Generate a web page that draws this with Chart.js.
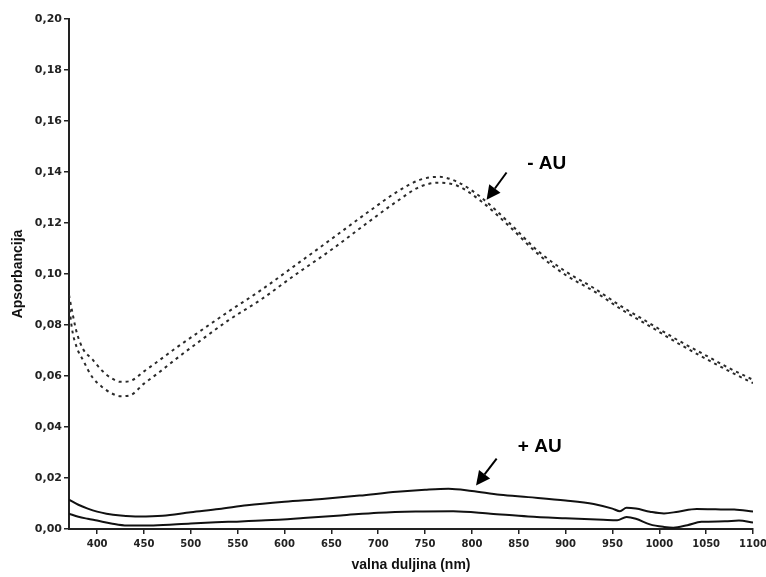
<!DOCTYPE html>
<html>
<head>
<meta charset="utf-8">
<script src="https://cdn.jsdelivr.net/npm/chart.js@4/dist/chart.umd.min.js"></script>
<style>
  html, body { margin: 0; padding: 0; background: #fff; }
  #wrap { width: 766px; height: 577px; overflow: hidden; }
</style>
</head>
<body>
<div id="wrap"><canvas id="c" width="766" height="577"></canvas></div>
<script>
// ---- Data ----
const dashWavelengths = [370, 373, 378, 385, 395, 405, 415, 425, 435, 450, 465, 485, 510, 540, 575, 610, 650, 690, 720, 745, 765, 785, 810, 840, 870, 900, 930, 960, 990, 1020, 1050, 1075, 1100];
const minusAU_1 = [0.0918, 0.0860, 0.0774, 0.0706, 0.0665, 0.0622, 0.0592, 0.0577, 0.0580, 0.0618, 0.0658, 0.0712, 0.0776, 0.0852, 0.0937, 0.1030, 0.1137, 0.1245, 0.1322, 0.1370, 0.1381, 0.1360, 0.1300, 0.1200, 0.1092, 0.1010, 0.0945, 0.0872, 0.0806, 0.0740, 0.0680, 0.0630, 0.0585];
const minusAU_2 = [0.0888, 0.0790, 0.0715, 0.0662, 0.0595, 0.0558, 0.0533, 0.0521, 0.0524, 0.0570, 0.0611, 0.0669, 0.0738, 0.0818, 0.0900, 0.0993, 0.1095, 0.1205, 0.1285, 0.1343, 0.1358, 0.1345, 0.1285, 0.1187, 0.1080, 0.0996, 0.0933, 0.0860, 0.0795, 0.0728, 0.0667, 0.0618, 0.0572];

const plusWavelengths_1 = [370, 380, 390, 400, 410, 425, 445, 470, 500, 530, 560, 600, 640, 680, 720, 750, 775, 800, 830, 860, 900, 930, 950, 958, 965, 975, 990, 1005, 1020, 1040, 1060, 1080, 1100];
const plusAU_1 = [0.0115, 0.0095, 0.0080, 0.0068, 0.0060, 0.0053, 0.0049, 0.0052, 0.0066, 0.0078, 0.0093, 0.0107, 0.0118, 0.0131, 0.0146, 0.0154, 0.0158, 0.0149, 0.0134, 0.0125, 0.0112, 0.0098, 0.0080, 0.0070, 0.0083, 0.0080, 0.0068, 0.0061, 0.0068, 0.0078, 0.0077, 0.0076, 0.0069];

const plusWavelengths_2 = [370, 380, 390, 400, 415, 432, 460, 500, 540, 580, 620, 660, 700, 740, 780, 820, 860, 900, 940, 955, 965, 975, 990, 1005, 1015, 1030, 1045, 1070, 1085, 1100];
const plusAU_2 = [0.0060, 0.0048, 0.0040, 0.0033, 0.0022, 0.0014, 0.0014, 0.0022, 0.0028, 0.0034, 0.0043, 0.0053, 0.0064, 0.0069, 0.0070, 0.0060, 0.0049, 0.0042, 0.0036, 0.0034, 0.0047, 0.0040, 0.0018, 0.0008, 0.0005, 0.0015, 0.0028, 0.0030, 0.0033, 0.0025];

const xTickValues = [400, 450, 500, 550, 600, 650, 700, 750, 800, 850, 900, 950, 1000, 1050, 1100];
const yTickValues = [0.00, 0.02, 0.04, 0.06, 0.08, 0.10, 0.12, 0.14, 0.16, 0.18, 0.20];
const yTickLabels = ['0,00', '0,02', '0,04', '0,06', '0,08', '0,10', '0,12', '0,14', '0,16', '0,18', '0,20'];

const xTitle = 'valna duljina (nm)';
const yTitle = 'Apsorbancija';

const annotationLabels = ['- AU', '+ AU'];

// ---- build datasets ----
const toPts = (xs, ys) => xs.map((x, i) => ({ x: x, y: ys[i] }));

const dashStyle = { borderColor: '#2a2a2a', borderWidth: 2, borderDash: [3, 4], pointRadius: 0, fill: false, cubicInterpolationMode: 'monotone' };
const solidStyle = { borderColor: '#111', borderWidth: 2, pointRadius: 0, fill: false, cubicInterpolationMode: 'monotone' };

// annotation plugin: text + arrows placed in data coordinates
const annotations = [
  { text: annotationLabels[0], tx: 859, ty: 0.1432, fromX: 837, fromY: 0.1398, toX: 815.7, toY: 0.1291 },
  { text: annotationLabels[1], tx: 849, ty: 0.0322, fromX: 826.4, fromY: 0.0276, toX: 804.4, toY: 0.0171 }
];

const annotationPlugin = {
  id: 'auAnnotations',
  afterDatasetsDraw(chart) {
    const ctx = chart.ctx;
    const xs = chart.scales.x, ys = chart.scales.y;
    ctx.save();
    annotations.forEach(a => {
      ctx.fillStyle = '#000';
      ctx.font = 'bold 19px "Liberation Sans", Arial, sans-serif';
      ctx.textBaseline = 'middle';
      ctx.textAlign = 'left';
      ctx.fillText(a.text, xs.getPixelForValue(a.tx), ys.getPixelForValue(a.ty));
      const x1 = xs.getPixelForValue(a.fromX), y1 = ys.getPixelForValue(a.fromY);
      const x2 = xs.getPixelForValue(a.toX), y2 = ys.getPixelForValue(a.toY);
      const ang = Math.atan2(y2 - y1, x2 - x1);
      const headLen = 14, headW = 7;
      const bx = x2 - headLen * Math.cos(ang), by = y2 - headLen * Math.sin(ang);
      ctx.strokeStyle = '#000';
      ctx.lineWidth = 2;
      ctx.beginPath();
      ctx.moveTo(x1, y1);
      ctx.lineTo(bx, by);
      ctx.stroke();
      ctx.beginPath();
      ctx.moveTo(x2, y2);
      ctx.lineTo(bx + headW * Math.sin(ang), by - headW * Math.cos(ang));
      ctx.lineTo(bx - headW * Math.sin(ang), by + headW * Math.cos(ang));
      ctx.closePath();
      ctx.fillStyle = '#000';
      ctx.fill();
    });
    ctx.restore();
  }
};

new Chart(document.getElementById('c'), {
  type: 'line',
  data: {
    datasets: [
      Object.assign({ label: '-AU 1', data: toPts(dashWavelengths, minusAU_1) }, dashStyle),
      Object.assign({ label: '-AU 2', data: toPts(dashWavelengths, minusAU_2) }, dashStyle),
      Object.assign({ label: '+AU 1', data: toPts(plusWavelengths_1, plusAU_1) }, solidStyle),
      Object.assign({ label: '+AU 2', data: toPts(plusWavelengths_2, plusAU_2) }, solidStyle)
    ]
  },
  options: {
    responsive: false,
    animation: false,
    layout: { padding: { top: 19, left: 0, right: 0, bottom: 0 } },
    plugins: { legend: { display: false }, tooltip: { enabled: false } },
    scales: {
      x: {
        type: 'linear',
        min: 370,
        max: 1100,
        afterBuildTicks: s => { s.ticks = xTickValues.map(v => ({ value: v })); },
        afterFit: s => { s.height = 48; s.paddingRight = 13; },
        grid: { display: true, drawOnChartArea: false, drawTicks: true, tickLength: 5, color: '#222', lineWidth: 1.5 },
        border: { display: true, color: '#222', width: 2 },
        ticks: {
          color: '#222',
          padding: 4,
          maxRotation: 0,
          autoSkip: false,
          font: { family: '"DejaVu Sans"', weight: 'bold', size: 10 },
          callback: v => String(v)
        },
        title: {
          display: true,
          text: xTitle,
          color: '#111',
          padding: { top: 0, bottom: 3 },
          font: { family: '"Liberation Sans", Arial, sans-serif', weight: 'bold', size: 14 }
        }
      },
      y: {
        type: 'linear',
        min: 0,
        max: 0.2,
        afterBuildTicks: s => { s.ticks = yTickValues.map(v => ({ value: v })); },
        afterFit: s => { s.width = 69; },
        grid: { display: true, drawOnChartArea: false, drawTicks: true, tickLength: 5, color: '#222', lineWidth: 1.5 },
        border: { display: true, color: '#222', width: 2 },
        ticks: {
          color: '#222',
          padding: 2,
          autoSkip: false,
          font: { family: '"DejaVu Sans"', weight: 'bold', size: 11 },
          callback: (v, i) => {
            const k = yTickValues.findIndex(t => Math.abs(t - v) < 1e-9);
            return k >= 0 ? yTickLabels[k] : '';
          }
        },
        title: {
          display: true,
          text: yTitle,
          color: '#111',
          padding: { top: 10, bottom: 0 },
          font: { family: '"Liberation Sans", Arial, sans-serif', weight: 'bold', size: 14 }
        }
      }
    }
  },
  plugins: [annotationPlugin]
});
</script>
</body>
</html>
